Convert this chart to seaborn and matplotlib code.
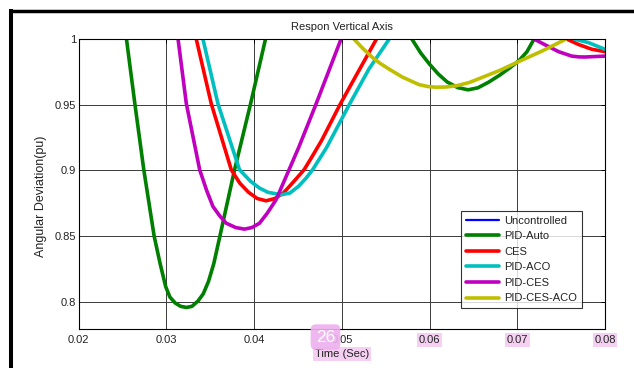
import matplotlib
matplotlib.use("Agg")
import matplotlib.pyplot as plt
import seaborn as sns
import pandas as pd
from matplotlib.lines import Line2D

# ---- data ----
series_names = ["Uncontrolled", "PID-Auto", "CES", "PID-ACO", "PID-CES", "PID-CES-ACO"]
series_colors = ["#0000FF", "#008000", "#FF0000", "#00BFBF", "#BF00BF", "#BFBF00"]

# PID-Auto
auto_t1 = [0.02545, 0.0264, 0.02742, 0.0286, 0.0293, 0.02992, 0.0304, 0.0310, 0.0316, 0.03227,
           0.0329, 0.0336, 0.0342, 0.0348, 0.0354, 0.0361, 0.03777, 0.0396, 0.04129]
auto_v1 = [1.0, 0.951, 0.9006, 0.850, 0.8285, 0.8114, 0.8035, 0.799, 0.7965, 0.7956,
           0.7964, 0.8005, 0.806, 0.8155, 0.829, 0.850, 0.9006, 0.951, 1.0]
auto_t2 = [0.0580, 0.0590, 0.0600, 0.0610, 0.0620, 0.0632, 0.0644, 0.0655, 0.0667, 0.0680,
           0.0692, 0.0702, 0.0711, 0.0719]
auto_v2 = [1.0, 0.9895, 0.981, 0.9735, 0.9675, 0.9632, 0.9615, 0.9630, 0.9672, 0.9727,
           0.9785, 0.9838, 0.9905, 1.0]

# CES
ces_t1 = [0.03341, 0.03511, 0.03739, 0.03836, 0.03936, 0.04036, 0.04136, 0.04236, 0.04336,
          0.04436, 0.0457, 0.0466, 0.0477, 0.04977, 0.0518, 0.05393]
ces_v1 = [1.0, 0.951, 0.9006, 0.8904, 0.8834, 0.8786, 0.8769, 0.8786, 0.8830, 0.8904,
          0.9006, 0.9105, 0.923, 0.950, 0.9745, 1.0]
ces_t2 = [0.0757, 0.0770, 0.0785, 0.0800]
ces_v2 = [1.0, 0.996, 0.9924, 0.9906]

# PID-ACO
aco_t1 = [0.03417, 0.03587, 0.03833, 0.03957, 0.04061, 0.04157, 0.04307, 0.04407, 0.04507,
          0.0459, 0.04667, 0.04825, 0.05083, 0.0531, 0.05538]
aco_v1 = [1.0, 0.951, 0.9006, 0.8919, 0.8866, 0.8834, 0.8815, 0.8828, 0.8880,
          0.8940, 0.9006, 0.9174, 0.950, 0.9775, 1.0]
aco_t2 = [0.0766, 0.0781, 0.0800]
aco_v2 = [1.0, 0.9975, 0.9924]

# PID-CES
pces_t1 = [0.03133, 0.03227, 0.03379, 0.0346, 0.0353, 0.0361, 0.03682, 0.0379, 0.0389,
           0.03975, 0.04061, 0.0415, 0.0425, 0.04507, 0.04702, 0.0499]
pces_v1 = [1.0, 0.951, 0.9006, 0.8845, 0.8726, 0.8652, 0.8598, 0.8565, 0.8553,
           0.8565, 0.8598, 0.8675, 0.8777, 0.9174, 0.950, 1.0]
pces_t2 = [0.07197, 0.0732, 0.0747, 0.0762, 0.0770, 0.0777, 0.0800]
pces_v2 = [1.0, 0.9957, 0.9906, 0.9872, 0.9866, 0.9865, 0.9872]

# PID-CES-ACO
pca_t = [0.0514, 0.0524, 0.05348, 0.0544, 0.05538, 0.0569, 0.05878, 0.0598, 0.0607, 0.0618,
         0.0630, 0.0645, 0.0659, 0.0680, 0.0700, 0.0728, 0.0755]
pca_v = [1.0, 0.993, 0.9862, 0.9815, 0.9773, 0.9712, 0.9655, 0.9640, 0.9635, 0.9636,
         0.9645, 0.9670, 0.9707, 0.9763, 0.9825, 0.991, 1.0]

x_ticks = [0.02, 0.03, 0.04, 0.05, 0.06, 0.07, 0.08]
x_tick_labels = ["0.02", "0.03", "0.04", "0.05", "0.06", "0.07", "0.08"]
y_ticks = [0.8, 0.85, 0.9, 0.95, 1.0]
y_tick_labels = ["0.8", "0.85", "0.9", "0.95", "1"]

# ---- build a long table ----
rows = []
def add(name, seg, ts, vs):
    for t, v in zip(ts, vs):
        rows.append({"series": name, "seg": f"{name}-{seg}", "t": t, "v": v})

add("PID-Auto", 1, auto_t1, auto_v1)
add("PID-Auto", 2, auto_t2, auto_v2)
add("CES", 1, ces_t1, ces_v1)
add("CES", 2, ces_t2, ces_v2)
add("PID-ACO", 1, aco_t1, aco_v1)
add("PID-ACO", 2, aco_t2, aco_v2)
add("PID-CES", 1, pces_t1, pces_v1)
add("PID-CES", 2, pces_t2, pces_v2)
add("PID-CES-ACO", 1, pca_t, pca_v)
df = pd.DataFrame(rows)

palette = dict(zip(series_names, series_colors))

sns.set_style("white")
plt.rcParams["font.family"] = ["Liberation Sans", "DejaVu Sans"]

W, H = 634, 368
fig = plt.figure(figsize=(W / 100, H / 100), dpi=100)
left, right, top, bottom = 78.7, 605, 39.3, 328.7
ax = fig.add_axes([left / W, 1 - bottom / H, (right - left) / W, (bottom - top) / H])

sns.lineplot(data=df, x="t", y="v", hue="series", units="seg", estimator=None,
             palette=palette, hue_order=series_names[1:], linewidth=2.6,
             sort=False, legend=False, ax=ax)
for ln in ax.get_lines():
    ln.set_solid_joinstyle("round")
    ln.set_solid_capstyle("round")

ax.set_xlim(0.02, 0.08)
ax.set_ylim(0.7794, 1.0)
ax.set_xticks(x_ticks)
ax.set_xticklabels(x_tick_labels)
ax.set_yticks(y_ticks)
ax.set_yticklabels(y_tick_labels)
ax.grid(True, color="#3a3a3a", linewidth=0.7)
ax.set_axisbelow(True)
ax.tick_params(direction="in", length=3, width=0.7, top=True, right=True,
               labelsize=8, colors="black", labelcolor="#222222")
ax.tick_params(axis="x", pad=4.5)
ax.tick_params(axis="y", pad=2)
for s in ax.spines.values():
    s.set_color("black")
    s.set_linewidth(0.8)

ax.set_title("Respon Vertical Axis", fontsize=8, pad=6.5, color="#222222")
ax.set_xlabel("Time (Sec)", fontsize=8, labelpad=3, color="#222222")
ax.set_ylabel("Angular Deviation(pu)", fontsize=9, color="#222222")
ax.yaxis.set_label_coords(-0.060, 0.4585)

handles = [Line2D([0], [0], color=c, lw=2.6) for c in series_colors]
handles[0].set_linewidth(1.6)
leg = ax.legend(handles, series_names, loc="upper left", bbox_to_anchor=(0.7264, 0.4077),
                borderaxespad=0, fontsize=8, frameon=True, fancybox=False,
                handlelength=3.0, handletextpad=0.45, labelspacing=0.5,
                borderpad=0.45)
leg.get_frame().set_edgecolor("black")
leg.get_frame().set_linewidth(0.8)
for t in leg.get_texts():
    t.set_color("#222222")

# highlight overlays present in the reference
pink = "#f6d0f2"
for lbl in ax.get_xticklabels()[4:]:
    lbl.set_bbox(dict(facecolor=pink, edgecolor="none", pad=1.2))
ax.xaxis.label.set_bbox(dict(facecolor=pink, edgecolor="none", pad=1.2))
fig.text(325.5 / W, 1 - 337 / H, "26", color="white", fontsize=12.5,
         ha="center", va="center", zorder=10,
         bbox=dict(boxstyle="round,pad=0.3", facecolor="#eeb0ee", edgecolor="none", alpha=0.9))

# outer page frame
fig.add_artist(Line2D([9.5 / W, 1.0], [1 - 11 / H, 1 - 11 / H], color="black", lw=2.5,
                      transform=fig.transFigure, solid_capstyle="butt"))
fig.add_artist(Line2D([11.3 / W, 11.3 / W], [0, 1 - 9.3 / H], color="black", lw=2.9,
                      transform=fig.transFigure, solid_capstyle="butt"))

fig.savefig("out.png", dpi=100)
